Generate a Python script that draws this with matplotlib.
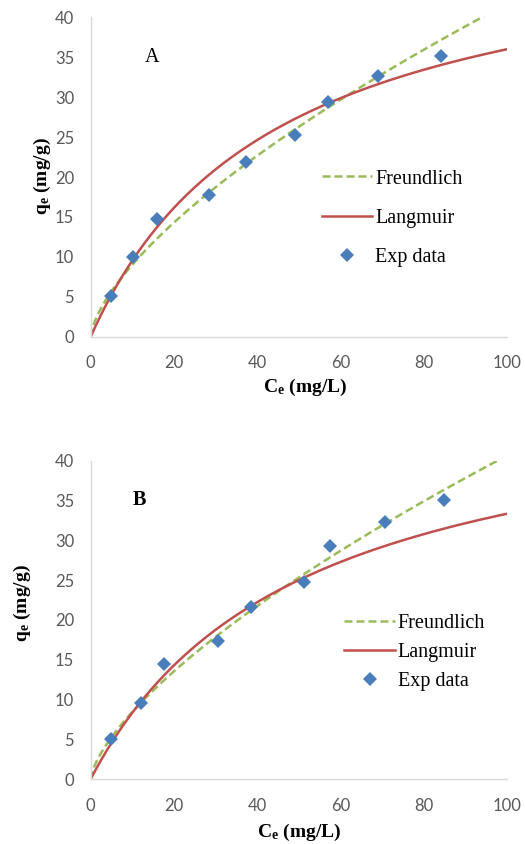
import numpy as np
import matplotlib.pyplot as plt

plt.rcParams["mathtext.fontset"] = "custom"
plt.rcParams["mathtext.bf"] = "Liberation Serif:bold"
plt.rcParams["mathtext.rm"] = "Liberation Serif"
plt.rcParams["mathtext.it"] = "Liberation Serif:italic"

# Experimental data, panel A
ce_a = [4.9, 10.2, 16.0, 28.3, 37.3, 49.1, 57.1, 68.9, 84.2]
qe_a = [5.1, 10.0, 14.7, 17.8, 21.9, 25.3, 29.4, 32.7, 35.2]

# Experimental data, panel B
ce_b = [4.9, 12.0, 17.5, 30.5, 38.6, 51.2, 57.5, 70.8, 84.9]
qe_b = [5.0, 9.5, 14.4, 17.4, 21.6, 24.7, 29.3, 32.3, 35.1]

# Isotherm fit parameters
# Freundlich: q = KF * C^(1/n) ; Langmuir: q = qm*KL*C / (1 + KL*C)
freundlich_a = {"KF": 1.95, "inv_n": 0.665}
langmuir_a = {"qm": 52.0, "KL": 0.0225}
freundlich_b = {"KF": 1.75, "inv_n": 0.683}
langmuir_b = {"qm": 50.0, "KL": 0.020}

panel_labels = ["A", "B"]

GREEN = "#9BBB59"
RED = "#C0504D"
BLUE = "#4A7EBB"
TICK = "#595959"
SPINE = "#D9D9D9"
SERIF = "Liberation Serif"

fig = plt.figure(figsize=(5.25, 8.44), dpi=100)

W, H = 525, 844


def px_axes(x0, y0, x1, y1):
    # pixel box (top-left origin) -> figure fraction
    return fig.add_axes([x0 / W, 1 - y1 / H, (x1 - x0) / W, (y1 - y0) / H])


def draw_panel(ax, ce, qe, fr, la, label, label_xy, bold_label, leg_anchor, leg_space):
    c = np.linspace(0.0, 100.0, 400)
    q_f = fr["KF"] * c ** fr["inv_n"]
    q_l = la["qm"] * la["KL"] * c / (1 + la["KL"] * c)
    ax.plot(c, q_f, color=GREEN, lw=1.8, ls=(0, (3.2, 1.6)), label="Freundlich")
    ax.plot(c, q_l, color=RED, lw=1.8, label="Langmuir")
    ax.plot(ce, qe, ls="none", marker="D", ms=7.4, mew=0, color=BLUE, label="Exp data")

    ax.set_xlim(0, 100)
    ax.set_ylim(0, 40)
    ax.set_xticks(range(0, 101, 20))
    ax.set_yticks(range(0, 41, 5))
    for s in ["top", "right"]:
        ax.spines[s].set_visible(False)
    for s in ["left", "bottom"]:
        ax.spines[s].set_color(SPINE)
        ax.spines[s].set_linewidth(1.0)
    ax.tick_params(length=0, colors=TICK, labelsize=12)
    ax.tick_params(axis="x", pad=13.5)
    ax.tick_params(axis="y", pad=12)
    for t in ax.get_xticklabels() + ax.get_yticklabels():
        t.set_fontfamily("Lato")

    ax.text(label_xy[0], label_xy[1], label, fontsize=14.5, family=SERIF,
            fontweight="bold" if bold_label else "normal", ha="center", va="center")

    leg = ax.legend(loc="upper left", bbox_to_anchor=leg_anchor, frameon=False,
                    prop={"family": SERIF, "size": 14.5}, handlelength=2.5,
                    handletextpad=0.15, labelspacing=leg_space, borderaxespad=0)
    return leg


ax1 = px_axes(90.7, 17.3, 507, 336.7)
draw_panel(ax1, ce_a, qe_a, freundlich_a, langmuir_a, panel_labels[0], (14.8, 35.0),
           False, (0.536, 0.549), 1.0)
fig.text(42 / W, 1 - 176 / H, r"$\mathbf{q_e}$ (mg/g)", rotation=90, ha="center", va="center",
         fontsize=14, family=SERIF, fontweight="bold")
fig.text(305 / W, 1 - 387 / H, r"$\mathbf{C_e}$ (mg/L)", ha="center", va="center",
         fontsize=14, family=SERIF, fontweight="bold")

ax2 = px_axes(90.7, 460.7, 507, 779)
draw_panel(ax2, ce_b, qe_b, freundlich_b, langmuir_b, panel_labels[1], (11.6, 35.1),
           True, (0.590, 0.543), 0.475)
fig.text(22 / W, 1 - 603 / H, r"$\mathbf{q_e}$ (mg/g)", rotation=90, ha="center", va="center",
         fontsize=14, family=SERIF, fontweight="bold")
fig.text(299 / W, 1 - 832 / H, r"$\mathbf{C_e}$ (mg/L)", ha="center", va="center",
         fontsize=14, family=SERIF, fontweight="bold")

fig.savefig("out.png", dpi=100)
